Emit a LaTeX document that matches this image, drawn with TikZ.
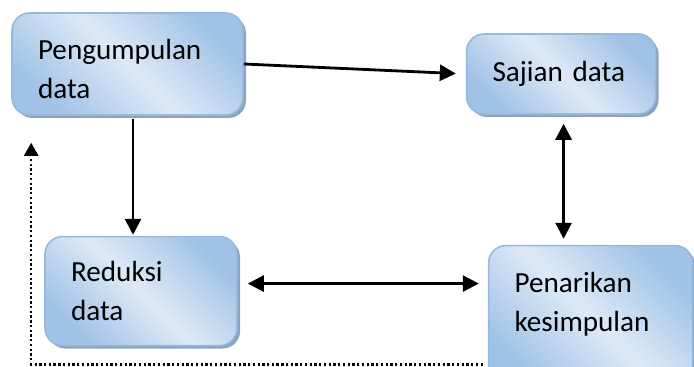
\documentclass[tikz,border=0pt]{standalone}
\usepackage{fontspec}
\setmainfont{Carlito}
\usepackage{tikz}
\usepackage{xcolor}
\usetikzlibrary{arrows.meta,positioning,shadows}

\definecolor{garistepi}{RGB}{150,185,222}
\definecolor{kotakgelap}{RGB}{160,194,230}
\definecolor{kotakterang}{RGB}{222,233,246}
\definecolor{bayangan}{RGB}{140,162,190}

\begin{document}
\begin{tikzpicture}[
      node distance=2.4cm,
      proses/.style={rectangle,draw=garistepi,line width=0.9pt,rounded corners=0.35cm,
        left color=kotakgelap,right color=kotakgelap,middle color=kotakterang,shading angle=135,
        drop shadow={shadow xshift=0.06cm,shadow yshift=-0.06cm,fill=bayangan,opacity=1},
        align=left,inner xsep=0.52cm,inner ysep=0pt,
        font=\fontsize{16.6}{21.8}\selectfont},
      panah/.style={-{Triangle[length=3.2mm,width=3.2mm]},line width=1.6pt},
      panahdua/.style={{Triangle[length=3.2mm,width=3.2mm]}-{Triangle[length=3.2mm,width=3.2mm]},line width=1.6pt},
      titik/.style={-{Triangle[length=2.6mm,width=2.8mm]},line width=1.3pt,dash pattern=on 1.3pt off 1.4pt}
    ]
    \clip (0,0) rectangle (13.88,7.34);
    \node[proses,text width=3.58cm,minimum height=2.04cm,text height=0.6cm] (kumpul) at (2.55,6.06) {Pengumpulan\\data};
    \node[proses,text width=2.74cm,minimum height=1.6cm,right=4.44cm of kumpul,yshift=-0.2cm] (sajian) {Sajian data};
    \node[proses,text width=2.8cm,minimum height=2.18cm,below=of kumpul,xshift=0.27cm] (reduksi) {Reduksi\\data};
    \node[proses,text width=3.04cm,minimum height=2.8cm,text depth=1.32cm,right=5cm of reduksi,yshift=-0.49cm] (tarik) {Penarikan\\kesimpulan};
    \coordinate (balik) at ([xshift=-0.1cm,yshift=0.44cm]tarik.south west);
    \coordinate (atas) at ([xshift=0.4cm,yshift=-0.54cm]kumpul.south west);
    \draw[panah,shorten >=0.2cm] (kumpul.east) -- (sajian.west);
    \draw[panah,shorten <=0.06cm,shorten >=0.02cm] ([xshift=0.11cm]kumpul.south) -- ([xshift=0.11cm]kumpul.south |- reduksi.north);
    \draw[panahdua,shorten <=0.2cm,shorten >=0.18cm] ([yshift=0.15cm]reduksi.east) -- ([yshift=0.15cm]reduksi.east -| tarik.west);
    \draw[panahdua,shorten <=0.18cm,shorten >=0.12cm] ([xshift=0.05cm]sajian.south) -- ([xshift=0.05cm]sajian.south |- tarik.north);
    \draw[titik] (balik) -| (atas);
  \end{tikzpicture}
\end{document}
